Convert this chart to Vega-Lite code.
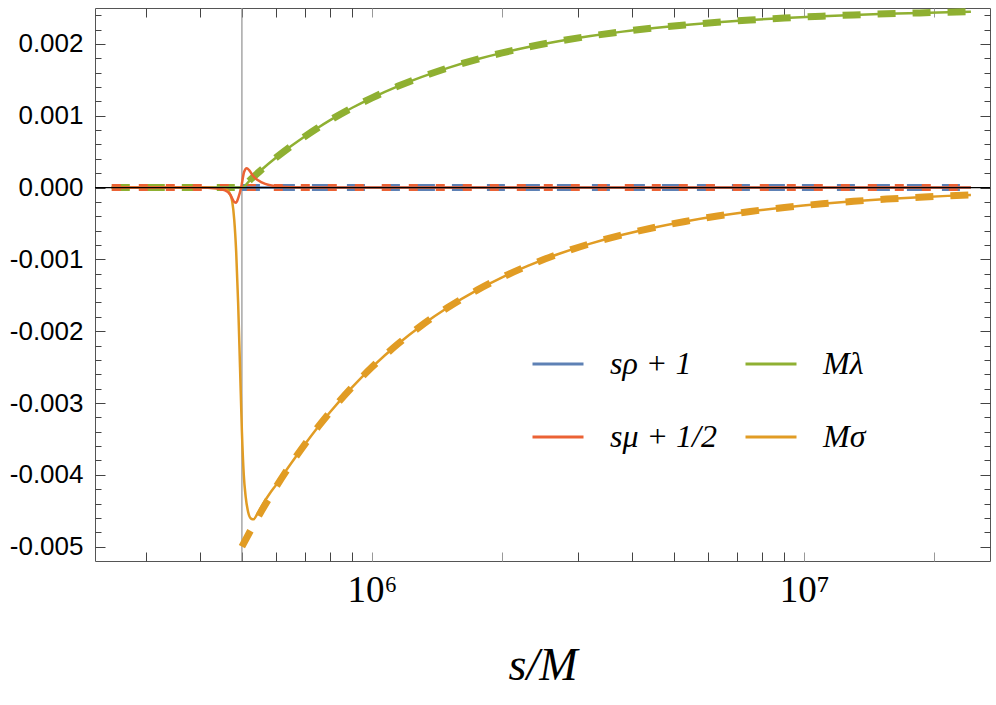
{
  "$schema": "https://vega.github.io/schema/vega-lite/v6.json",
  "width": 895,
  "height": 553,
  "autosize": {"type": "none"},
  "padding": {"left": 95, "top": 8, "right": 6, "bottom": 144},
  "background": "white",
  "config": {"view": {"stroke": "#555", "strokeWidth": 1}, "axis": {"grid": false, "domain": false}},
  "datasets": {
    "d_rho": [{"s": 500000, "v": 0}, {"s": 24300000, "v": 0}],
    "d_mu": [{"s": 250000, "v": 0}, {"s": 24300000, "v": 0}],
    "d_lam": [{"s": 250000, "v": 0}, {"s": 400000, "v": 0}, {"s": 500000, "v": 0}, {"s": 525000, "v": 0.000119}, {"s": 550000, "v": 0.000227}, {"s": 600000, "v": 0.000417}, {"s": 650000, "v": 0.000577}, {"s": 700000, "v": 0.000714}, {"s": 750000, "v": 0.000833}, {"s": 800000, "v": 0.000938}, {"s": 900000, "v": 0.001111}, {"s": 1000000, "v": 0.00125}, {"s": 1150000, "v": 0.001413}, {"s": 1300000, "v": 0.001538}, {"s": 1500000, "v": 0.001667}, {"s": 1750000, "v": 0.001786}, {"s": 2000000, "v": 0.001875}, {"s": 2300000, "v": 0.001957}, {"s": 2700000, "v": 0.002037}, {"s": 3200000, "v": 0.002109}, {"s": 3800000, "v": 0.002171}, {"s": 4500000, "v": 0.002222}, {"s": 5300000, "v": 0.002264}, {"s": 6300000, "v": 0.002302}, {"s": 7500000, "v": 0.002333}, {"s": 9000000, "v": 0.002361}, {"s": 11000000, "v": 0.002386}, {"s": 13000000, "v": 0.002404}, {"s": 15500000, "v": 0.002419}, {"s": 18500000, "v": 0.002432}, {"s": 21500000, "v": 0.002442}, {"s": 24300000, "v": 0.002449}],
    "d_sig": [{"s": 500000, "v": -0.005}, {"s": 525000, "v": -0.004762}, {"s": 550000, "v": -0.004545}, {"s": 600000, "v": -0.004167}, {"s": 650000, "v": -0.003846}, {"s": 700000, "v": -0.003571}, {"s": 750000, "v": -0.003333}, {"s": 800000, "v": -0.003125}, {"s": 900000, "v": -0.002778}, {"s": 1000000, "v": -0.0025}, {"s": 1150000, "v": -0.002174}, {"s": 1300000, "v": -0.001923}, {"s": 1500000, "v": -0.001667}, {"s": 1750000, "v": -0.001429}, {"s": 2000000, "v": -0.00125}, {"s": 2300000, "v": -0.001087}, {"s": 2700000, "v": -0.000926}, {"s": 3200000, "v": -0.000781}, {"s": 3800000, "v": -0.000658}, {"s": 4500000, "v": -0.000556}, {"s": 5300000, "v": -0.000472}, {"s": 6300000, "v": -0.000397}, {"s": 7500000, "v": -0.000333}, {"s": 9000000, "v": -0.000278}, {"s": 11000000, "v": -0.000227}, {"s": 13000000, "v": -0.000192}, {"s": 15500000, "v": -0.000161}, {"s": 18500000, "v": -0.000135}, {"s": 21500000, "v": -0.000116}, {"s": 24300000, "v": -0.000103}],
    "s_rho": [{"s": 250000, "v": 0, "k": "sρ + 1"}, {"s": 24300000, "v": 0, "k": "sρ + 1"}],
    "s_lam": [{"s": 250000, "v": 0, "k": "Mλ"}, {"s": 400000, "v": 0, "k": "Mλ"}, {"s": 490000, "v": 0, "k": "Mλ"}, {"s": 500000, "v": 0, "k": "Mλ"}, {"s": 525000, "v": 0.000119, "k": "Mλ"}, {"s": 550000, "v": 0.000227, "k": "Mλ"}, {"s": 600000, "v": 0.000417, "k": "Mλ"}, {"s": 650000, "v": 0.000577, "k": "Mλ"}, {"s": 700000, "v": 0.000714, "k": "Mλ"}, {"s": 750000, "v": 0.000833, "k": "Mλ"}, {"s": 800000, "v": 0.000938, "k": "Mλ"}, {"s": 900000, "v": 0.001111, "k": "Mλ"}, {"s": 1000000, "v": 0.00125, "k": "Mλ"}, {"s": 1150000, "v": 0.001413, "k": "Mλ"}, {"s": 1300000, "v": 0.001538, "k": "Mλ"}, {"s": 1500000, "v": 0.001667, "k": "Mλ"}, {"s": 1750000, "v": 0.001786, "k": "Mλ"}, {"s": 2000000, "v": 0.001875, "k": "Mλ"}, {"s": 2300000, "v": 0.001957, "k": "Mλ"}, {"s": 2700000, "v": 0.002037, "k": "Mλ"}, {"s": 3200000, "v": 0.002109, "k": "Mλ"}, {"s": 3800000, "v": 0.002171, "k": "Mλ"}, {"s": 4500000, "v": 0.002222, "k": "Mλ"}, {"s": 5300000, "v": 0.002264, "k": "Mλ"}, {"s": 6300000, "v": 0.002302, "k": "Mλ"}, {"s": 7500000, "v": 0.002333, "k": "Mλ"}, {"s": 9000000, "v": 0.002361, "k": "Mλ"}, {"s": 11000000, "v": 0.002386, "k": "Mλ"}, {"s": 13000000, "v": 0.002404, "k": "Mλ"}, {"s": 15500000, "v": 0.002419, "k": "Mλ"}, {"s": 18500000, "v": 0.002432, "k": "Mλ"}, {"s": 21500000, "v": 0.002442, "k": "Mλ"}, {"s": 24300000, "v": 0.002449, "k": "Mλ"}],
    "s_sig": [{"s": 250000, "v": 0, "k": "Mσ"}, {"s": 400000, "v": 0, "k": "Mσ"}, {"s": 440000, "v": -0.00001, "k": "Mσ"}, {"s": 460000, "v": -0.00003, "k": "Mσ"}, {"s": 470000, "v": -0.0001, "k": "Mσ"}, {"s": 475000, "v": -0.0002, "k": "Mσ"}, {"s": 480000, "v": -0.00045, "k": "Mσ"}, {"s": 485000, "v": -0.0009, "k": "Mσ"}, {"s": 490000, "v": -0.0016, "k": "Mσ"}, {"s": 495000, "v": -0.0025, "k": "Mσ"}, {"s": 500000, "v": -0.0034, "k": "Mσ"}, {"s": 505000, "v": -0.004, "k": "Mσ"}, {"s": 510000, "v": -0.0043, "k": "Mσ"}, {"s": 517000, "v": -0.00452, "k": "Mσ"}, {"s": 525000, "v": -0.00461, "k": "Mσ"}, {"s": 532000, "v": -0.00462, "k": "Mσ"}, {"s": 542000, "v": -0.00455, "k": "Mσ"}, {"s": 560000, "v": -0.0044, "k": "Mσ"}, {"s": 580000, "v": -0.00426, "k": "Mσ"}, {"s": 600000, "v": -0.00414, "k": "Mσ"}, {"s": 650000, "v": -0.00384, "k": "Mσ"}, {"s": 700000, "v": -0.003571, "k": "Mσ"}, {"s": 750000, "v": -0.003333, "k": "Mσ"}, {"s": 800000, "v": -0.003125, "k": "Mσ"}, {"s": 900000, "v": -0.002778, "k": "Mσ"}, {"s": 1000000, "v": -0.0025, "k": "Mσ"}, {"s": 1150000, "v": -0.002174, "k": "Mσ"}, {"s": 1300000, "v": -0.001923, "k": "Mσ"}, {"s": 1500000, "v": -0.001667, "k": "Mσ"}, {"s": 1750000, "v": -0.001429, "k": "Mσ"}, {"s": 2000000, "v": -0.00125, "k": "Mσ"}, {"s": 2300000, "v": -0.001087, "k": "Mσ"}, {"s": 2700000, "v": -0.000926, "k": "Mσ"}, {"s": 3200000, "v": -0.000781, "k": "Mσ"}, {"s": 3800000, "v": -0.000658, "k": "Mσ"}, {"s": 4500000, "v": -0.000556, "k": "Mσ"}, {"s": 5300000, "v": -0.000472, "k": "Mσ"}, {"s": 6300000, "v": -0.000397, "k": "Mσ"}, {"s": 7500000, "v": -0.000333, "k": "Mσ"}, {"s": 9000000, "v": -0.000278, "k": "Mσ"}, {"s": 11000000, "v": -0.000227, "k": "Mσ"}, {"s": 13000000, "v": -0.000192, "k": "Mσ"}, {"s": 15500000, "v": -0.000161, "k": "Mσ"}, {"s": 18500000, "v": -0.000135, "k": "Mσ"}, {"s": 21500000, "v": -0.000116, "k": "Mσ"}, {"s": 24300000, "v": -0.000103, "k": "Mσ"}],
    "s_mu": [{"s": 250000, "v": 0, "k": "sμ + 1/2"}, {"s": 400000, "v": 0, "k": "sμ + 1/2"}, {"s": 434000, "v": -0.00001, "k": "sμ + 1/2"}, {"s": 457000, "v": -0.00004, "k": "sμ + 1/2"}, {"s": 470000, "v": -0.0001, "k": "sμ + 1/2"}, {"s": 480000, "v": -0.0002, "k": "sμ + 1/2"}, {"s": 485000, "v": -0.00021, "k": "sμ + 1/2"}, {"s": 490000, "v": -0.00015, "k": "sμ + 1/2"}, {"s": 498000, "v": 0, "k": "sμ + 1/2"}, {"s": 506000, "v": 0.00022, "k": "sμ + 1/2"}, {"s": 513000, "v": 0.00027, "k": "sμ + 1/2"}, {"s": 520000, "v": 0.00024, "k": "sμ + 1/2"}, {"s": 531000, "v": 0.00016, "k": "sμ + 1/2"}, {"s": 545000, "v": 0.0001, "k": "sμ + 1/2"}, {"s": 566000, "v": 0.00005, "k": "sμ + 1/2"}, {"s": 597000, "v": 0.00002, "k": "sμ + 1/2"}, {"s": 647000, "v": 0.000005, "k": "sμ + 1/2"}, {"s": 760000, "v": 0, "k": "sμ + 1/2"}, {"s": 24300000, "v": 0, "k": "sμ + 1/2"}]
  },
  "layer": [
    {
      "data": {"values": [{}]},
      "mark": {"type": "rule", "color": "#999999", "strokeWidth": 1.3},
      "encoding": {
        "x": {"datum": 500000, "type": "quantitative", "scale": {"type": "log", "domain": [228600, 26900000], "nice": false}, "axis": null}
      }
    },
    {
      "data": {"name": "d_rho"},
      "mark": {"type": "line", "stroke": "#5E81B5", "strokeWidth": 7, "strokeDash": [18, 17], "strokeCap": "butt", "clip": true},
      "encoding": {
        "x": {"field": "s", "type": "quantitative", "scale": {"type": "log", "domain": [228600, 26900000], "nice": false},
          "axis": {"orient": "bottom", "values": [300000, 400000, 500000, 600000, 700000, 800000, 900000, 1000000, 2000000, 3000000, 4000000, 5000000, 6000000, 7000000, 8000000, 9000000, 10000000, 20000000],
            "labelExpr": "datum.value == 1000000 ? '10⁶' : (datum.value == 10000000 ? '10⁷' : '')",
            "tickSize": -9, "tickWidth": 1,
            "tickColor": {"condition": {"test": "datum.value == 1000000 || datum.value == 2000000 || datum.value == 10000000 || datum.value == 20000000", "value": "#999999"}, "value": "#444444"},
            "labelFont": "Liberation Serif", "labelFontSize": 37, "labelPadding": 20, "labelFlush": false, "labelOverlap": false, "labelColor": "black",
            "title": "s/M", "titleFont": "Liberation Serif", "titleFontStyle": "italic", "titleFontWeight": "normal", "titleFontSize": 46, "titlePadding": 35, "titleColor": "black", "domain": false, "grid": false}},
        "y": {"field": "v", "type": "quantitative", "scale": {"domain": [-0.0052, 0.0025], "nice": false, "zero": false},
          "axis": {"orient": "left", "values": [-0.005, -0.0048, -0.0046, -0.0044, -0.0042, -0.004, -0.0038, -0.0036, -0.0034, -0.0032, -0.003, -0.0028, -0.0026, -0.0024, -0.0022, -0.002, -0.0018, -0.0016, -0.0014, -0.0012, -0.001, -0.0008, -0.0006, -0.0004, -0.0002, 0, 0.0002, 0.0004, 0.0006, 0.0008, 0.001, 0.0012, 0.0014, 0.0016, 0.0018, 0.002, 0.0022, 0.0024],
            "labelExpr": "abs(datum.value*1000 - round(datum.value*1000)) < 0.000001 ? replace(format(datum.value, '.3f'), '−', '-') : ''",
            "tickSize": {"condition": {"test": "abs(datum.value*1000 - round(datum.value*1000)) < 0.000001", "value": -10}, "value": -6},
            "tickColor": "#444444", "tickWidth": 1,
            "labelFont": "Liberation Sans", "labelFontSize": 26, "labelPadding": 22, "labelColor": "black", "labelOverlap": false, "labelFlush": false,
            "title": null, "domain": false, "grid": false}}
      }
    },
    {
      "data": {"name": "d_sig"},
      "mark": {"type": "line", "stroke": "#E19C24", "strokeWidth": 7, "strokeDash": [18, 17], "strokeCap": "butt", "clip": true, "interpolate": "monotone"},
      "encoding": {
        "x": {"field": "s", "type": "quantitative", "scale": {"type": "log", "domain": [228600, 26900000], "nice": false},
          "axis": {"orient": "top", "values": [300000, 400000, 500000, 600000, 700000, 800000, 900000, 1000000, 2000000, 3000000, 4000000, 5000000, 6000000, 7000000, 8000000, 9000000, 10000000, 20000000],
            "labels": false, "tickSize": -9, "tickWidth": 1,
            "tickColor": {"condition": {"test": "datum.value == 1000000 || datum.value == 2000000 || datum.value == 10000000 || datum.value == 20000000", "value": "#999999"}, "value": "#444444"},
            "title": null, "domain": false, "grid": false}},
        "y": {"field": "v", "type": "quantitative", "scale": {"domain": [-0.0052, 0.0025], "nice": false, "zero": false},
          "axis": {"orient": "right", "values": [-0.005, -0.0048, -0.0046, -0.0044, -0.0042, -0.004, -0.0038, -0.0036, -0.0034, -0.0032, -0.003, -0.0028, -0.0026, -0.0024, -0.0022, -0.002, -0.0018, -0.0016, -0.0014, -0.0012, -0.001, -0.0008, -0.0006, -0.0004, -0.0002, 0, 0.0002, 0.0004, 0.0006, 0.0008, 0.001, 0.0012, 0.0014, 0.0016, 0.0018, 0.002, 0.0022, 0.0024],
            "labels": false,
            "tickSize": {"condition": {"test": "abs(datum.value*1000 - round(datum.value*1000)) < 0.000001", "value": -10}, "value": -6},
            "tickColor": "#444444", "tickWidth": 1, "title": null, "domain": false, "grid": false}}
      }
    },
    {
      "data": {"name": "d_lam"},
      "mark": {"type": "line", "stroke": "#8FB032", "strokeWidth": 7, "strokeDash": [18, 17], "strokeCap": "butt", "clip": true, "interpolate": "monotone"},
      "encoding": {
        "x": {"field": "s", "type": "quantitative", "scale": {"type": "log", "domain": [228600, 26900000], "nice": false}, "axis": null},
        "y": {"field": "v", "type": "quantitative", "scale": {"domain": [-0.0052, 0.0025], "nice": false, "zero": false}, "axis": null}
      }
    },
    {
      "data": {"name": "d_mu"},
      "mark": {"type": "line", "stroke": "#EB6235", "strokeWidth": 7, "strokeDash": [9, 18], "strokeCap": "butt", "clip": true},
      "encoding": {
        "x": {"field": "s", "type": "quantitative", "scale": {"type": "log", "domain": [228600, 26900000], "nice": false}, "axis": null},
        "y": {"field": "v", "type": "quantitative", "scale": {"domain": [-0.0052, 0.0025], "nice": false, "zero": false}, "axis": null}
      }
    },
    {
      "data": {"name": "s_rho"},
      "mark": {"type": "line", "strokeWidth": 2.5, "clip": true},
      "encoding": {
        "x": {"field": "s", "type": "quantitative", "scale": {"type": "log", "domain": [228600, 26900000], "nice": false}, "axis": null},
        "y": {"field": "v", "type": "quantitative", "scale": {"domain": [-0.0052, 0.0025], "nice": false, "zero": false}, "axis": null},
        "color": {"field": "k", "type": "nominal",
          "scale": {"domain": ["sρ + 1", "sμ + 1/2", "Mλ", "Mσ"], "range": ["#5E81B5", "#EB6235", "#8FB032", "#E19C24"]},
          "legend": {"orient": "none", "legendX": 436, "legendY": 329, "columns": 2, "title": null,
            "symbolType": "stroke", "symbolSize": 2601, "symbolStrokeWidth": 3,
            "labelFont": "Liberation Serif", "labelFontStyle": "italic", "labelFontSize": 32, "labelColor": "black", "labelOffset": 25, "labelLimit": 300,
            "columnPadding": 22, "rowPadding": 30}}
      }
    },
    {
      "data": {"name": "s_lam"},
      "mark": {"type": "line", "strokeWidth": 2.5, "clip": true, "interpolate": "monotone"},
      "encoding": {
        "x": {"field": "s", "type": "quantitative", "scale": {"type": "log", "domain": [228600, 26900000], "nice": false}, "axis": null},
        "y": {"field": "v", "type": "quantitative", "scale": {"domain": [-0.0052, 0.0025], "nice": false, "zero": false}, "axis": null},
        "color": {"field": "k", "type": "nominal"}
      }
    },
    {
      "data": {"name": "s_sig"},
      "mark": {"type": "line", "strokeWidth": 2.5, "clip": true, "interpolate": "monotone"},
      "encoding": {
        "x": {"field": "s", "type": "quantitative", "scale": {"type": "log", "domain": [228600, 26900000], "nice": false}, "axis": null},
        "y": {"field": "v", "type": "quantitative", "scale": {"domain": [-0.0052, 0.0025], "nice": false, "zero": false}, "axis": null},
        "color": {"field": "k", "type": "nominal"}
      }
    },
    {
      "data": {"name": "s_mu"},
      "mark": {"type": "line", "strokeWidth": 2.5, "clip": true, "interpolate": "monotone"},
      "encoding": {
        "x": {"field": "s", "type": "quantitative", "scale": {"type": "log", "domain": [228600, 26900000], "nice": false}, "axis": null},
        "y": {"field": "v", "type": "quantitative", "scale": {"domain": [-0.0052, 0.0025], "nice": false, "zero": false}, "axis": null},
        "color": {"field": "k", "type": "nominal"}
      }
    },
    {
      "data": {"values": [{}]},
      "mark": {"type": "rule", "color": "black", "strokeWidth": 1.2},
      "encoding": {
        "y": {"datum": 0, "type": "quantitative", "scale": {"domain": [-0.0052, 0.0025], "nice": false, "zero": false}, "axis": null}
      }
    }
  ],
  "resolve": {"axis": {"x": "independent", "y": "independent"}}
}
